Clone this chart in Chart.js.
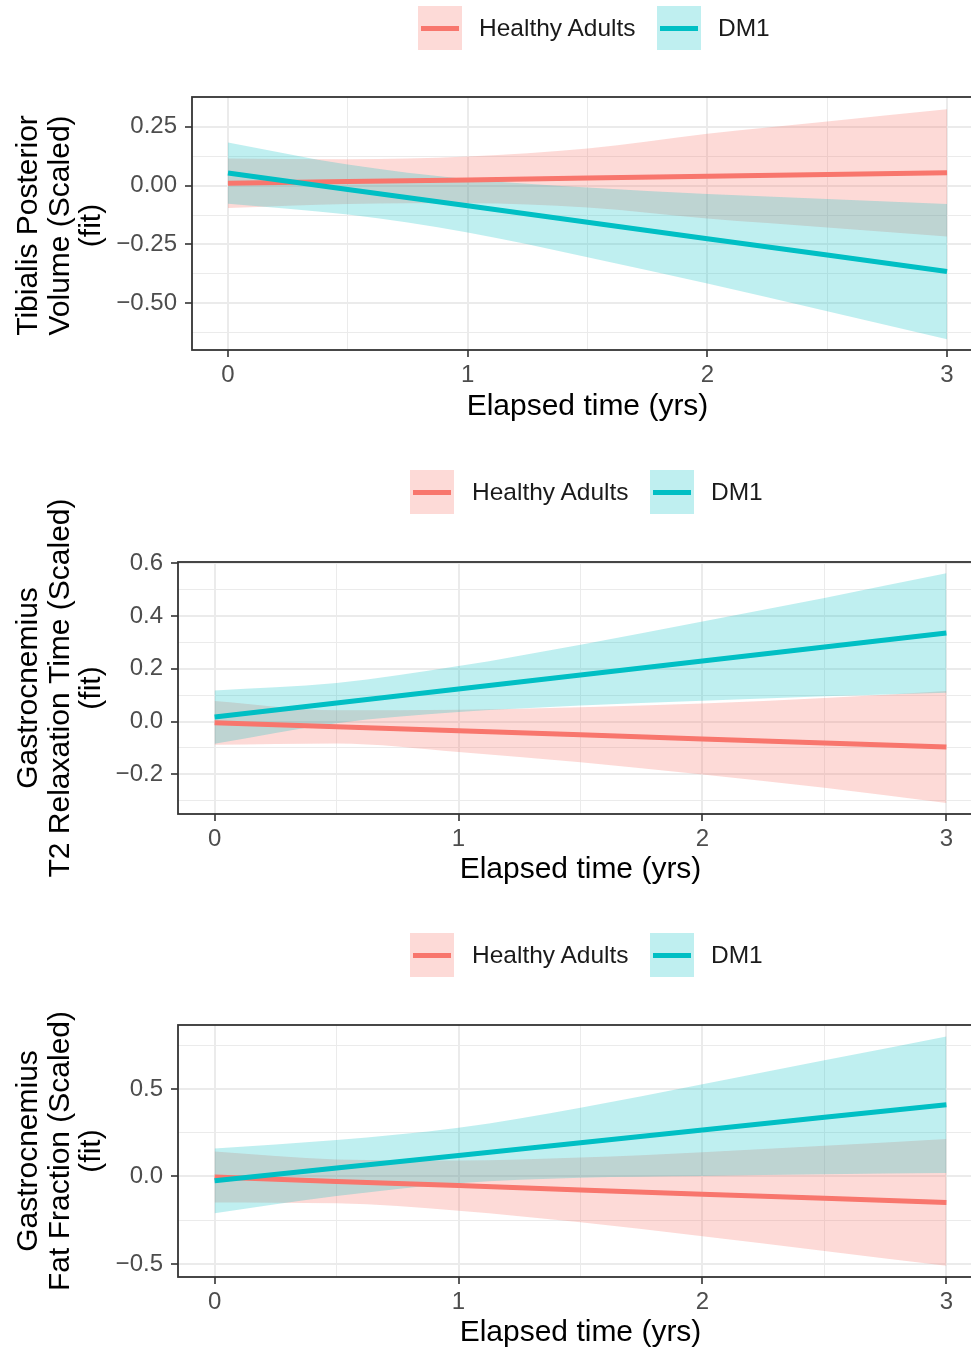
<!DOCTYPE html>
<html><head><meta charset="utf-8">
<script src="https://cdn.jsdelivr.net/npm/chart.js@4.4.1/dist/chart.umd.min.js"></script>
<style>
html,body{margin:0;padding:0;background:#fff;overflow:hidden;width:971px;height:1353px;}
body{position:relative;font-family:"Liberation Sans",Arial,sans-serif;}
.panel{position:absolute;left:0;}
.key{position:absolute;width:44px;height:44px;}
.key i{position:absolute;left:3px;right:3px;top:19.5px;height:5px;display:block;}
.lbl{position:absolute;height:44px;line-height:44px;font-size:24.5px;color:#1a1a1a;white-space:nowrap;}
</style></head><body>
<script>
// ---------- data ----------
const xs = [0, 0.5, 1, 1.5, 2, 2.5, 3];
const xTickVals = [0, 1, 2, 3];
const xTickLabels = ['0', '1', '2', '3'];
const xMinorVals = [0.5, 1.5, 2.5];
const groupNames = ['Healthy Adults', 'DM1'];
const xTitle = 'Elapsed time (yrs)';

// Panel 1: Tibialis Posterior Volume
const tpHealthyFit  = [0.010, 0.017, 0.024, 0.032, 0.040, 0.047, 0.054];
const tpHealthyLow  = [-0.095, -0.078, -0.075, -0.093, -0.140, -0.178, -0.216];
const tpHealthyHigh = [0.115, 0.112, 0.123, 0.157, 0.220, 0.272, 0.324];
const tpDM1Fit  = [0.053, -0.017, -0.086, -0.156, -0.226, -0.295, -0.365];
const tpDM1Low  = [-0.077, -0.123, -0.199, -0.304, -0.416, -0.533, -0.652];
const tpDM1High = [0.183, 0.089, 0.027, -0.008, -0.036, -0.057, -0.078];
const tpYTickVals = [-0.5, -0.25, 0, 0.25];
const tpYTickLabels = ['\u22120.50', '\u22120.25', '0.00', '0.25'];
const tpYMinorVals = [-0.625, -0.375, -0.125, 0.125];
const tpYRange = [-0.698, 0.376];
const tpTitle = ['Tibialis Posterior', 'Volume (Scaled)', '(fit)'];

// Panel 2: Gastrocnemius T2 Relaxation Time
const t2HealthyFit  = [-0.005, -0.020, -0.035, -0.050, -0.066, -0.081, -0.096];
const t2HealthyLow  = [-0.088, -0.083, -0.115, -0.154, -0.200, -0.251, -0.308];
const t2HealthyHigh = [0.078, 0.043, 0.045, 0.054, 0.068, 0.089, 0.116];
const t2DM1Fit  = [0.017, 0.070, 0.123, 0.176, 0.229, 0.282, 0.335];
const t2DM1Low  = [-0.084, -0.006, 0.036, 0.061, 0.079, 0.096, 0.109];
const t2DM1High = [0.118, 0.146, 0.210, 0.291, 0.379, 0.468, 0.561];
const t2YTickVals = [-0.2, 0, 0.2, 0.4, 0.6];
const t2YTickLabels = ['\u22120.2', '0.0', '0.2', '0.4', '0.6'];
const t2YMinorVals = [-0.3, -0.1, 0.1, 0.3, 0.5];
const t2YRange = [-0.35, 0.604];
const t2Title = ['Gastrocnemius', 'T2 Relaxation Time (Scaled)', '(fit)'];

// Panel 3: Gastrocnemius Fat Fraction
const ffHealthyFit  = [-0.003, -0.028, -0.052, -0.077, -0.101, -0.125, -0.148];
const ffHealthyLow  = [-0.148, -0.153, -0.195, -0.262, -0.341, -0.425, -0.510];
const ffHealthyHigh = [0.142, 0.097, 0.091, 0.108, 0.139, 0.175, 0.214];
const ffDM1Fit  = [-0.025, 0.048, 0.120, 0.193, 0.265, 0.338, 0.410];
const ffDM1Low  = [-0.210, -0.112, -0.038, -0.007, 0.003, 0.013, 0.020];
const ffDM1High = [0.160, 0.208, 0.278, 0.393, 0.527, 0.663, 0.800];
const ffYTickVals = [-0.5, 0, 0.5];
const ffYTickLabels = ['\u22120.5', '0.0', '0.5'];
const ffYMinorVals = [-0.25, 0.25, 0.75];
const ffYRange = [-0.574, 0.865];
const ffTitle = ['Gastrocnemius', 'Fat Fraction (Scaled)', '(fit)'];

// ---------- styling / layout ----------
const PINK = '#F8766D', TEAL = '#00BFC4';
const PINK_FILL = 'rgba(248,118,109,0.27)', TEAL_FILL = 'rgba(0,191,196,0.25)';
const FONT = '"Liberation Sans", Arial, sans-serif';
Chart.defaults.font.family = FONT;

const panels = [
  {hFit: tpHealthyFit, hLow: tpHealthyLow, hHigh: tpHealthyHigh, dFit: tpDM1Fit, dLow: tpDM1Low, dHigh: tpDM1High,
   yVals: tpYTickVals, yLabels: tpYTickLabels, yMinor: tpYMinorVals, yRange: tpYRange, title: tpTitle,
   top: 97, bottom: 350, left: 192, titlePad: 25, titleShift: 2, legendTop: 6, k1: 418, k2: 657, t1: 479, t2: 718},
  {hFit: t2HealthyFit, hLow: t2HealthyLow, hHigh: t2HealthyHigh, dFit: t2DM1Fit, dLow: t2DM1Low, dHigh: t2DM1High,
   yVals: t2YTickVals, yLabels: t2YTickLabels, yMinor: t2YMinorVals, yRange: t2YRange, title: t2Title,
   top: 562, bottom: 814, left: 178, titlePad: 26, titleShift: 0, legendTop: 470, k1: 410, k2: 650, t1: 472, t2: 711},
  {hFit: ffHealthyFit, hLow: ffHealthyLow, hHigh: ffHealthyHigh, dFit: ffDM1Fit, dLow: ffDM1Low, dHigh: ffDM1High,
   yVals: ffYTickVals, yLabels: ffYTickLabels, yMinor: ffYMinorVals, yRange: ffYRange, title: ffTitle,
   top: 1025, bottom: 1277, left: 178, titlePad: 26, titleShift: 0, legendTop: 933, k1: 410, k2: 650, t1: 472, t2: 711}
];

const CANVAS_W = 1000, PAD_TOP = 80, XAXIS_H = 100, RIGHT_EDGE = 983;

function pts(arr) { return xs.map((x, i) => ({x: x, y: arr[i]})); }
function near(v, list) { return list.some(t => Math.abs(t - v) < 1e-9); }
function labelFor(v, vals, labels) {
  for (let i = 0; i < vals.length; i++) if (Math.abs(vals[i] - v) < 1e-9) return labels[i];
  return '';
}

const yTitlePlugin = {
  id: 'yTitle',
  afterDraw(chart, args, opts) {
    const {ctx, chartArea} = chart;
    ctx.save();
    ctx.font = '30px ' + FONT;
    ctx.fillStyle = '#000';
    ctx.textAlign = 'center';
    ctx.textBaseline = 'middle';
    const cy = (chartArea.top + chartArea.bottom) / 2 + opts.shift;
    opts.lines.forEach((t, i) => {
      ctx.save();
      ctx.translate(opts.x0 + i * opts.gap, cy);
      ctx.rotate(-Math.PI / 2);
      ctx.fillText(t, 0, 0);
      ctx.restore();
    });
    ctx.restore();
  }
};
const borderPlugin = {
  id: 'panelBorder',
  afterDatasetsDraw(chart) {
    const {ctx, chartArea: a} = chart;
    ctx.save();
    ctx.strokeStyle = '#333333';
    ctx.lineWidth = 1.8;
    ctx.strokeRect(a.left, a.top, a.right - a.left, a.bottom - a.top);
    ctx.restore();
  }
};

function gridOpts(majors) {
  return {
    color: '#ebebeb',
    lineWidth: c => (c.tick && near(c.tick.value, majors)) ? 2 : 1,
    tickColor: c => (c.tick && near(c.tick.value, majors)) ? '#333333' : 'rgba(0,0,0,0)',
    tickLength: 7,
    tickWidth: 1.6
  };
}

function band(arr, fillColor, order, fill) {
  return {data: pts(arr), borderWidth: 0, borderColor: 'rgba(0,0,0,0)', pointRadius: 0,
          backgroundColor: fillColor || 'rgba(0,0,0,0)', fill: fill, order: order,
          cubicInterpolationMode: 'monotone'};
}
function fitLine(arr, color, order) {
  return {data: pts(arr), borderWidth: 5, borderColor: color, pointRadius: 0, fill: false,
          order: order, borderCapStyle: 'butt'};
}

function addLegend(P) {
  const mk = (cls, css) => { const d = document.createElement('div'); d.className = cls; Object.assign(d.style, css); document.body.appendChild(d); return d; };
  const k1 = mk('key', {left: P.k1 + 'px', top: P.legendTop + 'px', background: PINK_FILL});
  k1.innerHTML = '<i style="background:' + PINK + '"></i>';
  const k2 = mk('key', {left: P.k2 + 'px', top: P.legendTop + 'px', background: TEAL_FILL});
  k2.innerHTML = '<i style="background:' + TEAL + '"></i>';
  mk('lbl', {left: P.t1 + 'px', top: P.legendTop + 'px'}).textContent = groupNames[0];
  mk('lbl', {left: P.t2 + 'px', top: P.legendTop + 'px'}).textContent = groupNames[1];
}

panels.forEach(P => {
  const plotH = P.bottom - P.top;
  const H = PAD_TOP + plotH + XAXIS_H;
  const wrap = document.createElement('div');
  wrap.className = 'panel';
  wrap.style.top = (P.top - PAD_TOP) + 'px';
  wrap.style.width = CANVAS_W + 'px';
  wrap.style.height = H + 'px';
  const cv = document.createElement('canvas');
  cv.width = CANVAS_W; cv.height = H;
  wrap.appendChild(cv);
  document.body.appendChild(wrap);

  new Chart(cv, {
    type: 'line',
    data: {
      datasets: [
        band(P.hLow, null, 4, false),
        band(P.hHigh, PINK_FILL, 4, '-1'),
        band(P.dLow, null, 3, false),
        band(P.dHigh, TEAL_FILL, 3, '-1'),
        fitLine(P.hFit, PINK, 2),
        fitLine(P.dFit, TEAL, 1)
      ]
    },
    options: {
      responsive: false,
      animation: false,
      events: [],
      layout: {padding: {top: PAD_TOP, right: CANVAS_W - RIGHT_EDGE, bottom: 0, left: 0}},
      plugins: {
        legend: {display: false},
        tooltip: {enabled: false},
        filler: {drawTime: 'beforeDatasetsDraw'},
        yTitle: {lines: P.title, x0: 29, gap: 31.5, shift: P.titleShift}
      },
      scales: {
        x: {
          type: 'linear', min: -0.15, max: 3.15,
          afterBuildTicks: s => { s.ticks = xMinorVals.concat(xTickVals).sort((a, b) => a - b).map(v => ({value: v})); },
          afterFit: s => { s.height = XAXIS_H; },
          ticks: {autoSkip: false, maxRotation: 0, minRotation: 0, padding: 4, color: '#4d4d4d', font: {size: 24},
                  callback: v => labelFor(v, xTickVals, xTickLabels)},
          grid: gridOpts(xTickVals),
          border: {display: false},
          title: {display: true, text: xTitle, color: '#000', font: {size: 30}, padding: {top: 0, bottom: P.titlePad}}
        },
        y: {
          type: 'linear', min: P.yRange[0], max: P.yRange[1],
          afterBuildTicks: s => { s.ticks = P.yMinor.concat(P.yVals).sort((a, b) => a - b).map(v => ({value: v})); },
          afterFit: s => { s.width = P.left; },
          ticks: {autoSkip: false, padding: 8, color: '#4d4d4d', font: {size: 24},
                  callback: v => labelFor(v, P.yVals, P.yLabels)},
          grid: gridOpts(P.yVals),
          border: {display: false}
        }
      }
    },
    plugins: [yTitlePlugin, borderPlugin]
  });
  addLegend(P);
});
</script>
</body></html>
